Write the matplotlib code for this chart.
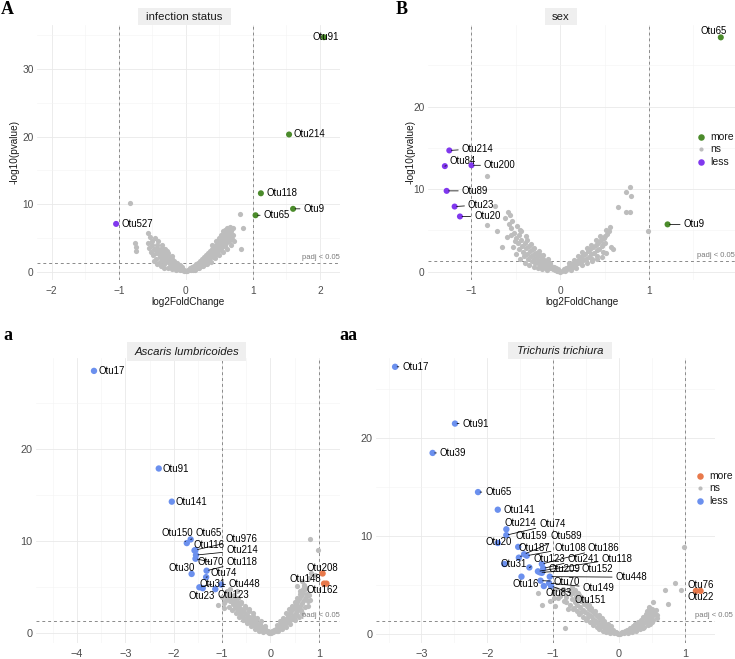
import matplotlib
matplotlib.use('Agg')
import matplotlib.pyplot as plt
from matplotlib.patches import Rectangle
from matplotlib.ticker import MultipleLocator

plt.rcParams['font.family'] = ['Liberation Sans', 'DejaVu Sans']

# ---------------- DATA ----------------
# Panel A: infection status
A_names = ['Otu91', 'Otu214', 'Otu118', 'Otu9', 'Otu65', 'Otu527']
A_lfc = [2.06, 1.54, 1.12, 1.60, 1.04, -1.04]
A_logp = [34.7, 20.3, 11.6, 9.3, 8.35, 7.07]
A_dir = ['more', 'more', 'more', 'more', 'more', 'less']
A_grey = [(-0.83, 10.2), (-0.76, 4.2), (-0.74, 3.7), (-0.74, 3.0), (0.81, 8.55), (0.86, 6.4), (0.82, 3.4),
          (-0.57, 5.7), (-0.53, 5.2), (-0.46, 5.0), (-0.56, 4.3), (-0.50, 4.0), (-0.47, 3.4), (-0.52, 2.9),
          (-0.49, 2.4), (-0.45, 2.8), (-0.43, 3.9), (-0.41, 3.3), (-0.40, 2.6), (-0.38, 2.1), (-0.37, 3.0),
          (-0.35, 2.5), (-0.34, 1.8), (-0.33, 2.9), (-0.31, 2.2), (-0.30, 1.6), (-0.29, 2.6), (-0.27, 1.9),
          (-0.26, 1.4), (-0.25, 2.2), (-0.23, 1.6), (-0.22, 1.1), (-0.21, 1.9), (-0.19, 1.3), (-0.18, 0.9),
          (-0.17, 1.6), (-0.15, 1.1), (-0.14, 0.7), (-0.13, 1.3), (-0.11, 0.8), (-0.10, 0.5), (-0.09, 1.0),
          (-0.07, 0.6), (-0.06, 0.3), (-0.05, 0.7), (-0.03, 0.3), (-0.02, 0.1), (0.00, 0.05), (-0.44, 1.9),
          (-0.39, 1.5), (-0.32, 1.2), (-0.24, 0.8), (-0.16, 0.5), (-0.08, 0.2), (-0.42, 4.5), (-0.36, 3.5),
          (-0.28, 3.0), (-0.20, 2.3),
          (-0.48, 1.6), (-0.43, 1.2), (-0.37, 0.9), (-0.33, 0.6), (-0.27, 0.5), (-0.21, 0.35), (-0.15, 0.25),
          (-0.55, 3.5), (-0.51, 4.6), (-0.44, 3.4), (-0.39, 2.8), (-0.35, 4.0), (-0.31, 3.3), (-0.26, 2.7),
          (-0.20, 1.5), (-0.12, 0.4),
          (0.02, 0.1), (0.03, 0.3), (0.05, 0.2), (0.06, 0.5), (0.08, 0.3), (0.09, 0.7), (0.11, 0.5), (0.12, 0.9),
          (0.14, 0.6), (0.15, 1.1), (0.17, 0.8), (0.18, 1.3), (0.20, 1.0), (0.21, 1.6), (0.23, 1.2), (0.24, 1.9),
          (0.26, 1.4), (0.27, 2.2), (0.29, 1.7), (0.30, 2.5), (0.32, 1.9), (0.33, 2.8), (0.35, 2.2), (0.36, 3.1),
          (0.38, 2.5), (0.39, 3.4), (0.41, 2.8), (0.42, 3.7), (0.44, 3.1), (0.45, 4.0), (0.47, 3.4), (0.48, 4.3),
          (0.50, 3.7), (0.51, 4.7), (0.53, 4.0), (0.54, 5.0), (0.56, 4.4), (0.57, 5.4), (0.59, 4.8), (0.60, 5.8),
          (0.62, 5.1), (0.63, 6.2), (0.65, 5.6), (0.66, 6.6), (0.68, 6.0), (0.70, 5.4), (0.71, 6.5), (0.58, 3.8),
          (0.52, 3.2), (0.46, 2.6), (0.40, 2.1), (0.34, 1.6), (0.28, 1.2), (0.22, 0.8), (0.16, 0.5), (0.10, 0.2),
          (0.64, 4.6), (0.69, 4.9), (0.55, 6.0), (0.49, 5.0),
          (0.13, 0.3), (0.19, 0.55), (0.25, 0.8), (0.31, 1.1), (0.37, 1.5), (0.43, 2.0), (0.49, 2.4), (0.55, 2.9),
          (0.61, 3.4), (0.67, 4.0), (0.72, 4.5), (0.60, 4.2), (0.54, 3.6), (0.47, 2.9), (0.41, 2.4), (0.35, 1.9),
          (0.29, 1.4), (0.23, 1.0), (0.17, 0.7), (0.66, 5.2), (0.61, 6.5), (0.58, 6.1), (0.52, 5.5), (0.45, 4.6),
          (0.39, 4.0)]

# Panel B: sex
B_names = ['Otu65', 'Otu214', 'Otu84', 'Otu200', 'Otu89', 'Otu23', 'Otu20', 'Otu9']
B_lfc = [1.81, -1.25, -1.30, -1.00, -1.28, -1.19, -1.13, 1.21]
B_logp = [28.4, 14.7, 12.8, 12.9, 9.8, 7.9, 6.7, 5.74]
B_dir = ['more', 'less', 'less', 'less', 'less', 'less', 'less', 'more']
B_grey = [(-0.83, 11.6), (-0.73, 8.0), (0.79, 10.3), (0.74, 9.7), (0.80, 9.2), (0.65, 7.9), (0.74, 7.2),
          (0.79, 7.2), (0.99, 4.9), (-0.59, 7.3), (-0.57, 6.9), (-0.62, 6.5), (-0.82, 5.7), (-0.71, 4.9),
          (-0.66, 3.0), (-0.60, 4.2), (0.56, 5.4), (0.53, 4.6), (0.49, 4.1), (0.57, 3.0), (0.60, 2.7),
          (-0.55, 5.3), (-0.52, 4.7), (-0.50, 4.1), (-0.48, 3.5), (-0.53, 3.0), (-0.47, 2.7), (-0.46, 4.4),
          (-0.44, 3.8), (-0.43, 3.1), (-0.42, 2.4), (-0.41, 1.9), (-0.40, 3.5), (-0.38, 2.9), (-0.37, 2.2),
          (-0.36, 1.6), (-0.35, 3.1), (-0.34, 2.5), (-0.33, 1.9), (-0.32, 1.3), (-0.31, 2.7), (-0.30, 2.1),
          (-0.29, 1.5), (-0.28, 1.1), (-0.27, 2.3), (-0.26, 1.8), (-0.25, 1.3), (-0.24, 0.9), (-0.23, 2.0),
          (-0.22, 1.5), (-0.21, 1.0), (-0.20, 0.7), (-0.19, 1.6), (-0.18, 1.2), (-0.17, 0.8), (-0.16, 0.5),
          (-0.15, 1.3), (-0.14, 0.9), (-0.13, 0.6), (-0.12, 1.0), (-0.11, 0.4), (-0.10, 0.7), (-0.09, 0.5),
          (-0.08, 0.3), (-0.07, 0.6), (-0.06, 0.2), (-0.05, 0.4), (-0.04, 0.15), (-0.03, 0.3), (-0.02, 0.1),
          (0.00, 0.02), (-0.45, 5.0), (-0.51, 3.7), (-0.39, 4.3),
          (-0.45, 1.5), (-0.40, 1.1), (-0.35, 0.8), (-0.30, 0.6), (-0.25, 0.45), (-0.20, 0.3), (-0.15, 0.2),
          (-0.50, 2.2), (-0.56, 4.4), (-0.58, 5.8), (-0.54, 6.2), (-0.49, 5.6), (-0.44, 4.9), (-0.37, 3.8),
          (-0.33, 3.4), (-0.29, 2.9), (-0.24, 2.5), (-0.19, 2.0), (-0.14, 1.6),
          (0.02, 0.1), (0.04, 0.3), (0.05, 0.15), (0.07, 0.5), (0.08, 0.3), (0.10, 0.7), (0.11, 0.4), (0.13, 0.9),
          (0.14, 0.6), (0.16, 1.1), (0.17, 0.8), (0.19, 1.3), (0.20, 1.0), (0.22, 1.6), (0.23, 1.2), (0.25, 1.9),
          (0.26, 1.4), (0.28, 2.2), (0.29, 1.6), (0.31, 2.5), (0.32, 1.8), (0.34, 2.8), (0.35, 2.1), (0.36, 1.6),
          (0.37, 3.0), (0.38, 2.3), (0.40, 3.3), (0.41, 2.6), (0.42, 1.9), (0.43, 3.5), (0.44, 2.8), (0.46, 3.8),
          (0.47, 3.1), (0.48, 2.4), (0.50, 4.3), (0.51, 3.5), (0.52, 5.1), (0.55, 4.9),
          (0.12, 0.25), (0.18, 0.5), (0.24, 0.8), (0.30, 1.1), (0.36, 1.3), (0.42, 1.5), (0.47, 1.8), (0.52, 2.3),
          (0.45, 4.3), (0.40, 3.8), (0.35, 3.3), (0.30, 2.9), (0.25, 2.4), (0.20, 1.9), (0.15, 1.4), (0.10, 1.0),
          (0.48, 3.4)]

# Panel a: Ascaris lumbricoides
a_names = ['Otu17', 'Otu91', 'Otu141', 'Otu150', 'Otu65', 'Otu116', 'Otu976', 'Otu214', 'Otu70',
           'Otu118', 'Otu74', 'Otu30', 'Otu31', 'Otu448', 'Otu23', 'Otu123', 'Otu208', 'Otu148', 'Otu162']
a_lfc = [-3.65, -2.31, -2.04, -1.73, -1.65, -1.57, -1.55, -1.54, -1.55,
         -1.32, -1.33, -1.63, -1.47, -1.02, -1.40, -1.14, 1.08, 1.11, 1.16]
a_logp = [28.5, 17.9, 14.3, 9.8, 10.2, 9.0, 9.05, 8.5, 8.1,
          6.8, 6.1, 6.45, 5.0, 5.3, 4.9, 4.8, 6.5, 5.4, 5.4]
a_dir = ['less'] * 16 + ['more'] * 3
a_grey = [(0.82, 10.25), (0.98, 9.1), (0.85, 6.6), (0.93, 6.3), (0.55, 5.1), (0.65, 5.7), (0.74, 4.9),
          (0.79, 4.2), (-0.97, 3.3), (-1.08, 3.1), (-0.83, 3.5), (-0.70, 3.3), (0.80, 6.0), (0.70, 5.3),
          (0.62, 4.6), (-0.90, 3.7), (-0.77, 3.3), (-0.63, 3.3),
          (-0.88, 3.9), (-0.85, 4.3), (-0.82, 3.6), (-0.80, 4.0), (-0.78, 3.2), (-0.76, 3.7), (-0.74, 2.9),
          (-0.72, 3.4), (-0.70, 2.6), (-0.68, 3.1), (-0.66, 2.3), (-0.64, 2.9), (-0.62, 2.1), (-0.60, 2.6),
          (-0.58, 1.9), (-0.56, 2.4), (-0.54, 1.7), (-0.52, 2.2), (-0.50, 1.5), (-0.48, 2.0), (-0.46, 1.3),
          (-0.44, 1.8), (-0.42, 1.2), (-0.40, 1.6), (-0.38, 1.0), (-0.36, 1.4), (-0.34, 0.9), (-0.32, 1.2),
          (-0.30, 0.7), (-0.28, 1.0), (-0.26, 0.6), (-0.24, 0.9), (-0.22, 0.5), (-0.20, 0.7), (-0.18, 0.4),
          (-0.16, 0.6), (-0.14, 0.3), (-0.12, 0.45), (-0.10, 0.2), (-0.08, 0.3), (-0.06, 0.1), (-0.04, 0.2),
          (-0.02, 0.05), (-0.61, 3.3), (-0.53, 2.8), (-0.45, 2.4), (-0.37, 1.9), (-0.29, 1.4), (-0.21, 1.0),
          (-0.13, 0.7), (-0.90, 4.6), (-0.94, 3.5),
          (-0.86, 2.9), (-0.80, 2.5), (-0.72, 2.2), (-0.64, 1.8), (-0.56, 1.4), (-0.48, 1.1), (-0.40, 0.8),
          (-0.32, 0.5), (-0.24, 0.3), (-0.16, 0.15), (-0.84, 4.8), (-0.76, 4.2), (-0.68, 3.8), (-0.60, 3.4),
          (-0.52, 3.0), (-0.44, 2.6), (-0.36, 2.2), (-0.28, 1.7), (-0.20, 1.3), (-0.12, 0.8), (-0.70, 4.6),
          (-1.00, 3.9), (-0.95, 2.8),
          (0.02, 0.05), (0.04, 0.2), (0.06, 0.1), (0.08, 0.35), (0.10, 0.2), (0.12, 0.5), (0.14, 0.3),
          (0.16, 0.7), (0.18, 0.5), (0.20, 0.9), (0.22, 0.6), (0.24, 1.1), (0.26, 0.8), (0.28, 1.4),
          (0.30, 1.0), (0.32, 1.6), (0.34, 1.2), (0.36, 1.9), (0.38, 1.4), (0.40, 2.2), (0.42, 1.6),
          (0.44, 2.5), (0.46, 1.9), (0.48, 2.8), (0.50, 2.1), (0.52, 3.1), (0.54, 2.4), (0.56, 3.4),
          (0.58, 2.7), (0.60, 3.7), (0.62, 3.0), (0.64, 4.0), (0.66, 3.3), (0.68, 4.4), (0.70, 3.6),
          (0.72, 4.8), (0.74, 3.9), (0.76, 4.3), (0.78, 3.5), (0.82, 3.6), (0.60, 1.8), (0.66, 2.2),
          (0.50, 1.4), (0.40, 1.0),
          (0.16, 0.2), (0.24, 0.45), (0.32, 0.7), (0.40, 1.4), (0.48, 1.7), (0.56, 2.0), (0.64, 2.5),
          (0.72, 2.9), (0.78, 3.0), (0.70, 5.0), (0.66, 4.7), (0.62, 4.3), (0.56, 3.8), (0.50, 3.4),
          (0.44, 3.0), (0.38, 2.6), (0.32, 2.2), (0.26, 1.7), (0.20, 1.3), (0.14, 0.9)]

# Panel aa: Trichuris trichiura
t_names = ['Otu17', 'Otu91', 'Otu39', 'Otu65', 'Otu141', 'Otu214', 'Otu74', 'Otu20', 'Otu159', 'Otu589',
           'Otu187', 'Otu108', 'Otu186', 'Otu123', 'Otu241', 'Otu118', 'Otu31', 'Otu209', 'Otu152',
           'Otu448', 'Otu16', 'Otu70', 'Otu149', 'Otu83', 'Otu151', 'Otu76', 'Otu22']
t_lfc = [-3.40, -2.49, -2.83, -2.14, -1.84, -1.71, -1.71, -1.84, -1.53, -1.44,
         -1.52, -1.40, -1.17, -1.36, -1.15, -1.23, -1.74, -1.17, -1.20,
         -1.05, -1.48, -1.19, -1.06, -1.14, -1.03, 1.24, 1.17]
t_logp = [27.3, 21.5, 18.5, 14.5, 12.7, 10.7, 10.1, 9.3, 8.9, 8.15,
          7.8, 8.0, 7.15, 6.8, 6.7, 6.4, 7.15, 6.25, 6.3,
          5.86, 5.86, 5.45, 5.2, 4.9, 4.9, 4.4, 4.4]
t_dir = ['less'] * 25 + ['more'] * 2
t_grey = [(0.99, 8.9), (0.85, 5.2), (0.70, 4.5), (0.95, 4.5), (0.75, 3.1), (0.52, 3.3), (0.57, 2.5),
          (-1.17, 3.0), (-0.99, 3.65), (-0.82, 0.65), (-0.92, 3.7), (-1.23, 4.2), (-1.00, 4.2), (-0.90, 3.9),
          (-0.77, 2.6), (-0.95, 4.6), (-0.88, 4.3), (-0.84, 3.4), (-1.05, 3.4), (-0.97, 2.9),
          (-0.76, 4.5), (-0.73, 4.1), (-0.71, 3.6), (-0.69, 4.3), (-0.67, 3.3), (-0.65, 3.9), (-0.63, 3.0),
          (-0.61, 3.6), (-0.59, 2.8), (-0.57, 3.4), (-0.55, 2.5), (-0.53, 3.1), (-0.51, 2.2), (-0.49, 2.9),
          (-0.47, 2.0), (-0.45, 2.6), (-0.43, 1.8), (-0.41, 2.3), (-0.39, 1.5), (-0.37, 2.0), (-0.35, 1.3),
          (-0.33, 1.8), (-0.31, 1.1), (-0.29, 1.5), (-0.27, 0.9), (-0.25, 1.3), (-0.23, 0.7), (-0.21, 1.0),
          (-0.19, 0.5), (-0.17, 0.8), (-0.15, 0.4), (-0.13, 0.6), (-0.11, 0.25), (-0.09, 0.4), (-0.07, 0.15),
          (-0.05, 0.25), (-0.03, 0.08), (-0.01, 0.02), (-0.80, 3.8), (-0.68, 2.7), (-0.58, 2.2), (-0.48, 1.6),
          (-0.38, 1.1), (-0.28, 0.7), (-0.18, 0.3), (-0.85, 4.6), (-0.62, 4.2),
          (-0.80, 3.3), (-0.74, 3.0), (-0.70, 2.6), (-0.64, 2.3), (-0.60, 2.0), (-0.54, 1.7), (-0.50, 1.4),
          (-0.44, 1.2), (-0.40, 0.9), (-0.34, 0.7), (-0.30, 0.5), (-0.24, 0.35), (-0.20, 0.2), (-0.14, 0.1),
          (-0.72, 4.8), (-0.66, 4.5), (-0.60, 4.0), (-0.56, 3.7), (-0.50, 3.3), (-0.46, 3.0), (-0.42, 2.7),
          (-0.36, 2.3), (-0.30, 1.9), (-0.26, 1.6), (-0.22, 1.3), (-0.16, 1.0), (-0.12, 0.8),
          (0.01, 0.03), (0.03, 0.1), (0.05, 0.2), (0.07, 0.12), (0.09, 0.3), (0.11, 0.2), (0.13, 0.45),
          (0.15, 0.3), (0.17, 0.6), (0.19, 0.4), (0.21, 0.8), (0.23, 0.55), (0.25, 1.0), (0.27, 0.7),
          (0.29, 1.2), (0.31, 0.85), (0.33, 1.4), (0.35, 1.0), (0.37, 1.7), (0.39, 1.2), (0.41, 2.0),
          (0.42, 1.4), (0.43, 2.3), (0.44, 1.7), (0.45, 2.6), (0.46, 1.1), (0.47, 2.0), (0.48, 1.5),
          (0.49, 2.4), (0.50, 1.2), (0.51, 1.8), (0.58, 1.9), (0.58, 1.6), (0.36, 0.6), (0.26, 0.4),
          (0.14, 0.15), (0.20, 0.25), (0.26, 0.35), (0.32, 0.5), (0.38, 0.7), (0.44, 0.9), (0.48, 1.0),
          (0.52, 1.4), (0.54, 2.0), (0.40, 1.6), (0.34, 1.2), (0.28, 0.95), (0.22, 0.7), (0.18, 0.5),
          (0.46, 2.8), (0.50, 2.6), (0.53, 2.3)]

legend_labels = ['more', 'ns', 'less']

# ---------------- LABEL LAYOUT (positions: lx, ly, ha, segment) ----------------
A_lab = [(2.08, 34.7, 'center', False), (1.61, 20.3, 'left', False), (1.21, 11.6, 'left', False),
         (1.755, 9.3, 'left', True), (1.16, 8.35, 'left', True), (-0.955, 7.07, 'left', False)]
B_lab = [(1.73, 29.2, 'center', False), (-1.11, 14.9, 'left', True), (-1.245, 13.4, 'left', True),
         (-0.86, 12.9, 'left', True), (-1.11, 9.8, 'left', True), (-1.04, 8.1, 'left', True),
         (-0.97, 6.7, 'left', True), (1.39, 5.74, 'left', True)]
a_lab = [(-3.56, 28.5, 'left', False), (-2.23, 17.9, 'left', False), (-1.96, 14.3, 'left', False),
         (-1.93, 10.9, 'center', True), (-1.28, 10.9, 'center', True), (-1.28, 9.6, 'center', False),
         (-0.59, 10.2, 'center', True), (-0.59, 9.0, 'center', True), (-1.24, 7.75, 'center', True),
         (-0.59, 7.75, 'center', True), (-0.96, 6.5, 'center', True), (-1.83, 7.1, 'center', False),
         (-1.20, 5.35, 'center', True), (-0.53, 5.35, 'center', True), (-1.42, 4.05, 'center', False),
         (-0.76, 4.15, 'center', False), (1.08, 7.1, 'center', False), (0.72, 5.95, 'center', False),
         (1.08, 4.7, 'center', False)]
t_lab = [(-3.29, 27.3, 'left', True), (-2.375, 21.5, 'left', True), (-2.72, 18.5, 'left', True),
         (-2.03, 14.5, 'left', True), (-1.76, 12.7, 'left', False), (-1.50, 11.3, 'center', False),
         (-1.01, 11.2, 'center', True), (-1.82, 9.45, 'center', False), (-1.33, 10.0, 'center', True),
         (-0.80, 10.0, 'center', True), (-1.28, 8.8, 'center', True), (-0.74, 8.8, 'center', True),
         (-0.23, 8.8, 'center', True), (-1.06, 7.7, 'center', True), (-0.54, 7.7, 'center', True),
         (-0.03, 7.7, 'center', True), (-1.60, 7.15, 'center', False), (-0.82, 6.6, 'center', True),
         (-0.33, 6.6, 'center', True), (0.19, 5.8, 'center', True), (-1.42, 5.1, 'center', False),
         (-0.79, 5.35, 'center', True), (-0.31, 4.7, 'center', True), (-0.91, 4.2, 'center', False),
         (-0.44, 3.5, 'center', True), (1.25, 5.0, 'center', False), (1.25, 3.75, 'center', False)]

# ---------------- STYLE ----------------
W, H = 735, 659
GREY = '#bdbdbd'
top_cols = {'more': '#4b8b2b', 'less': '#8038ee'}
bot_cols = {'more': '#e8794b', 'less': '#6b90ee'}

fig = plt.figure(figsize=(W / 100, H / 100), dpi=100)


def px_axes(l, t, r, b):
    return fig.add_axes([l / W, 1 - b / H, (r - l) / W, (b - t) / H])


def draw_panel(ax, xlim, ylim, xticks, yticks, fs, names, lfc, logp, dirs, grey, labs, cols, ms,
               padj_x):
    ax.set_xlim(xlim)
    ax.set_ylim(ylim)
    ax.set_xticks(xticks)
    ax.set_yticks(yticks)
    ax.xaxis.set_minor_locator(MultipleLocator(0.5))
    ax.yaxis.set_minor_locator(MultipleLocator(5))
    ax.grid(True, which='major', color='#e9e9e9', lw=0.6)
    ax.grid(True, which='minor', color='#f3f3f3', lw=0.4)
    ax.set_axisbelow(True)
    for s in ax.spines.values():
        s.set_visible(False)
    ax.tick_params(which='both', length=0, labelsize=fs, labelcolor='#4d4d4d')
    ax.tick_params(axis='x', pad=4)
    ax.tick_params(axis='y', pad=2.5)
    ax.patch.set_alpha(0)
    dash = dict(color='#8a8a8a', lw=0.7, dashes=(3, 3), zorder=1)
    ax.axvline(-1, **dash)
    ax.axvline(1, **dash)
    ax.axhline(1.3, **dash)
    ax.text(padj_x, 1.55, 'padj < 0.05', ha='right', va='bottom', fontsize=5.5, color='#7a7a7a',
            clip_on=False)
    gx = [p[0] for p in grey]
    gy = [p[1] for p in grey]
    ax.scatter(gx, gy, s=14, color=GREY, linewidths=0, zorder=2, clip_on=False)
    ax.scatter(lfc, logp, s=ms, c=[cols[d] for d in dirs], linewidths=0, zorder=4, clip_on=False)
    for n, x, y, (lx, ly, ha, seg) in zip(names, lfc, logp, labs):
        if seg:
            ax.annotate(n, xy=(x, y), xytext=(lx, ly), ha=ha, va='center', fontsize=6.9,
                        annotation_clip=False, zorder=5,
                        arrowprops=dict(arrowstyle='-', color='black', lw=0.55, shrinkA=0.5, shrinkB=1.5))
        else:
            ax.text(lx, ly, n, ha=ha, va='center', fontsize=6.9, zorder=5, clip_on=False)


axA = px_axes(37, 25, 340, 280)
draw_panel(axA, (-2.22, 2.30), (-1.23, 36.5), [-2, -1, 0, 1, 2], [0, 10, 20, 30], 7.3,
           A_names, A_lfc, A_logp, A_dir, A_grey, A_lab, top_cols, 19, 2.30)
axB = px_axes(428, 25, 735, 280)
draw_panel(axB, (-1.49, 1.97), (-1.0, 29.9), [-1, 0, 1], [0, 10, 20], 7.3,
           B_names, B_lfc, B_logp, B_dir, B_grey, B_lab, top_cols, 19, 1.97)
axa = px_axes(36, 358, 340, 643)
draw_panel(axa, (-4.85, 1.44), (-1.05, 29.9), [-4, -3, -2, -1, 0, 1], [0, 10, 20], 7.8,
           a_names, a_lfc, a_logp, a_dir, a_grey, a_lab, bot_cols, 21, 1.44)
axt = px_axes(376, 358, 715, 643)
draw_panel(axt, (-3.69, 1.46), (-0.92, 28.2), [-3, -2, -1, 0, 1], [0, 10, 20], 7.8,
           t_names, t_lfc, t_logp, t_dir, t_grey, t_lab, bot_cols, 21, 1.73)

# ---------------- OVERLAY (pixel coordinates) ----------------
ov = fig.add_axes([0, 0, 1, 1], zorder=10)
ov.set_xlim(0, W)
ov.set_ylim(H, 0)
ov.axis('off')
ov.patch.set_alpha(0)

strips = [(138, 8, 231, 25, 'infection status', 'normal'),
          (545, 8, 577, 25, 'sex', 'normal'),
          (127, 342, 246, 361, 'Ascaris lumbricoides', 'italic'),
          (508, 342, 612, 359, 'Trichuris trichiura', 'italic')]
for x0, y0, x1, y1, txt, st in strips:
    ov.add_patch(Rectangle((x0, y0), x1 - x0, y1 - y0, facecolor='#efefef', edgecolor='none'))
    ov.text((x0 + x1) / 2, (y0 + y1) / 2 + 0.5, txt, ha='center', va='center', fontsize=8.2,
            style=st, color='#1a1a1a')

# axis titles (top panels only)
for xc, yc in [(188, 302), (582, 302)]:
    ov.text(xc, yc, 'log2FoldChange', ha='center', va='center', fontsize=7.2, color='#1a1a1a')
for xc, yc in [(15, 152), (411, 152)]:
    ov.text(xc, yc, '-log10(pvalue)', ha='center', va='center', fontsize=7.2, rotation=90,
            color='#1a1a1a')

# panel letters
for xc, yc, t in [(7, 10, 'A'), (402, 9, 'B'), (8, 336, 'a'), (348, 336, 'aa')]:
    ov.text(xc, yc, t, ha='center', va='center', fontsize=13, fontweight='bold',
            family=['Liberation Serif', 'DejaVu Serif'])

# legends
for lx, ly0, cols in [(701, 137, top_cols), (700, 476, bot_cols)]:
    for i, lab in enumerate(legend_labels):
        yy = ly0 + i * 12.3
        if lab == 'ns':
            ov.scatter([lx], [yy], s=9, color=GREY, linewidths=0)
        else:
            ov.scatter([lx], [yy], s=22, color=cols[lab], linewidths=0)
        ov.text(lx + 9, yy, lab, ha='left', va='center', fontsize=7.5, color='#1a1a1a')

fig.savefig('out.png', dpi=100)
